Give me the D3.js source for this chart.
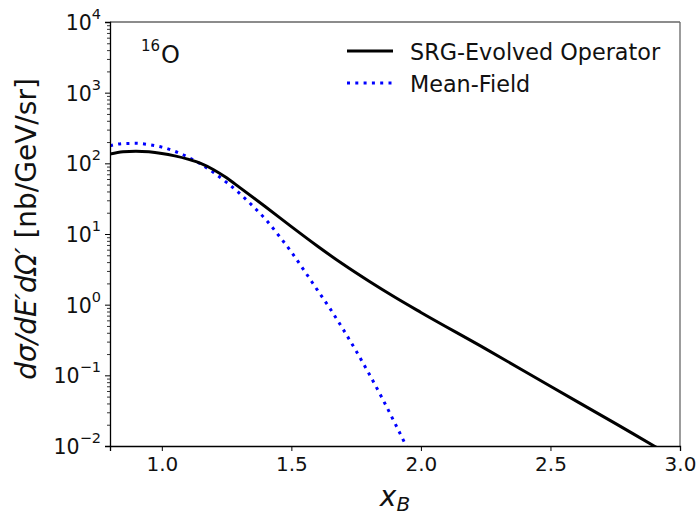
<!DOCTYPE html>
<html>
<head>
<meta charset="utf-8">
<script src="https://cdn.jsdelivr.net/npm/d3@7"></script>
<style>
  body { margin: 0; background: #fff; }
  svg { display: block; font-family: "DejaVu Sans", sans-serif; }
</style>
</head>
<body>
<div id="chart"></div>
<script>
// x_B values and cross sections [nb/GeV/sr]
var srgX = [0.80, 0.85, 0.90, 0.95, 1.00, 1.05, 1.10, 1.15, 1.20, 1.25, 1.30, 1.40, 1.50, 1.60, 1.70, 1.80, 1.90, 2.00, 2.25, 2.50, 2.75, 2.90, 3.00];
var srgY = [134.9, 145.6, 148.6, 145.6, 138.0, 127.4, 114.8, 100, 81.3, 62.4, 45.7, 24.3, 12.7, 6.76, 3.72, 2.14, 1.27, 0.776, 0.237, 0.0700, 0.0209, 0.0100, 0.00617];

var mfX = [0.80, 0.85, 0.90, 0.95, 1.00, 1.05, 1.10, 1.15, 1.20, 1.25, 1.30, 1.35, 1.40, 1.45, 1.50, 1.55, 1.60, 1.65, 1.70, 1.75, 1.80, 1.85, 1.90, 1.95];
var mfY = [177.8, 190.5, 191.9, 184.1, 169.8, 147.9, 123.0, 97.7, 74.1, 53.7, 37.6, 25.1, 16.2, 9.66, 5.56, 3.02, 1.62, 0.871, 0.447, 0.221, 0.105, 0.0479, 0.0209, 0.00891];

var xTicks = [1.0, 1.5, 2.0, 2.5, 3.0];
var yTicks = [1e-2, 1e-1, 1e0, 1e1, 1e2, 1e3, 1e4];
var yExps = ["\u22122", "\u22121", "0", "1", "2", "3", "4"];

var legendNames = ["SRG-Evolved Operator", "Mean-Field"];

var W = 700, H = 515;
var m = {left: 110, right: 680, top: 22, bottom: 446};

var svg = d3.select("#chart").append("svg")
    .attr("width", W)
    .attr("height", H);

var x = d3.scaleLinear().domain([0.8, 3.0]).range([m.left, m.right]);
var y = d3.scaleLog().domain([1e-2, 1e4]).range([m.bottom, m.top]);

// minor ticks 2..9 in each decade
var minor = [];
yTicks.slice(0, -1).forEach(function (d) {
  for (var k = 2; k < 10; k++) minor.push(d * k);
});

svg.append("clipPath").attr("id", "plotclip")
  .append("rect")
    .attr("x", m.left).attr("y", m.top)
    .attr("width", m.right - m.left).attr("height", m.bottom - m.top);

// curves
var line = d3.line()
    .x(function (d) { return x(d[0]); })
    .y(function (d) { return y(d[1]); })
    .curve(d3.curveMonotoneX);

var plot = svg.append("g").attr("clip-path", "url(#plotclip)");

plot.append("path")
    .datum(d3.zip(mfX, mfY))
    .attr("d", line)
    .attr("fill", "none")
    .attr("stroke", "#0000ff")
    .attr("stroke-width", 3)
    .attr("stroke-dasharray", "3 5.3");

plot.append("path")
    .datum(d3.zip(srgX, srgY))
    .attr("d", line)
    .attr("fill", "none")
    .attr("stroke", "#000")
    .attr("stroke-width", 3);

// frame
svg.append("line").attr("x1", m.left).attr("x2", m.right).attr("y1", m.top).attr("y2", m.top)
    .attr("stroke", "#666").attr("stroke-width", 1.3);
svg.append("line").attr("x1", m.right).attr("x2", m.right).attr("y1", m.top).attr("y2", m.bottom)
    .attr("stroke", "#666").attr("stroke-width", 1.3);

// x axis
var gx = svg.append("g")
    .attr("transform", "translate(0," + m.bottom + ")")
    .call(d3.axisBottom(x).tickValues(xTicks).tickSize(5).tickPadding(6)
      .tickFormat(d3.format(".1f")));
gx.select(".domain").attr("stroke", "#000").attr("stroke-width", 1.3);
gx.selectAll(".tick line").attr("stroke", "#000").attr("stroke-width", 1);
gx.selectAll(".tick text")
    .attr("font-family", "DejaVu Sans")
    .attr("font-size", 20)
    .attr("fill", "#111");

// y axis, minor then major
var gyMinor = svg.append("g")
    .attr("transform", "translate(" + m.left + ",0)")
    .call(d3.axisLeft(y).tickValues(minor).tickSize(3).tickFormat(""));
gyMinor.select(".domain").remove();
gyMinor.selectAll(".tick line").attr("stroke", "#000").attr("stroke-width", 0.8);

var gy = svg.append("g")
    .attr("transform", "translate(" + m.left + ",0)")
    .call(d3.axisLeft(y).tickValues(yTicks).tickSize(5).tickFormat(""));
gy.select(".domain").attr("stroke", "#000").attr("stroke-width", 1.3);
gy.selectAll(".tick line").attr("stroke", "#000").attr("stroke-width", 1);

var ylab = svg.append("g").selectAll("text")
    .data(yTicks)
    .enter()
    .append("text")
      .attr("x", m.left - 9)
      .attr("y", function (d) { return y(d) + 8; })
      .attr("text-anchor", "end")
      .attr("font-size", 20.5)
      .attr("fill", "#111");
ylab.append("tspan").text("10");
ylab.append("tspan")
    .attr("font-size", 14.5)
    .attr("dy", -11)
    .text(function (d, i) { return yExps[i]; });

// axis titles
var xt = svg.append("text")
    .attr("x", (m.left + m.right) / 2)
    .attr("y", 506)
    .attr("text-anchor", "middle")
    .attr("font-size", 28)
    .attr("fill", "#111");
xt.append("tspan").attr("font-style", "italic").text("x");
xt.append("tspan").attr("font-style", "italic").attr("font-size", 20).attr("dy", 5).text("B");

var yt = svg.append("text")
    .attr("transform", "translate(36," + 229 + ") rotate(-90)")
    .attr("text-anchor", "middle")
    .attr("font-size", 28)
    .attr("fill", "#111");
yt.append("tspan").attr("font-style", "italic").text("d\u03c3/dE\u2032d\u03a9\u2032");
yt.append("tspan").text(" [nb/GeV/sr]");

// nucleus label
var nuc = svg.append("text")
    .attr("x", 141)
    .attr("y", 63)
    .attr("font-size", 24)
    .attr("fill", "#111");
nuc.append("tspan").attr("font-size", 15).attr("dy", -12).text("16");
nuc.append("tspan").attr("dy", 12).attr("dx", 1).text("O");

// legend
var leg = svg.append("g");
var legY = [51, 83];
leg.append("line")
    .attr("x1", 347).attr("x2", 393).attr("y1", legY[0]).attr("y2", legY[0])
    .attr("stroke", "#000").attr("stroke-width", 3);
leg.append("line")
    .attr("x1", 347).attr("x2", 393).attr("y1", legY[1]).attr("y2", legY[1])
    .attr("stroke", "#0000ff").attr("stroke-width", 3)
    .attr("stroke-dasharray", "3 5.3");
leg.selectAll("text.name")
    .data(legendNames)
    .enter()
    .append("text")
      .attr("class", "name")
      .attr("x", 410)
      .attr("y", function (d, i) { return legY[i] + 9; })
      .attr("font-size", 22.3)
      .attr("fill", "#111")
      .text(function (d) { return d; });
</script>
</body>
</html>
